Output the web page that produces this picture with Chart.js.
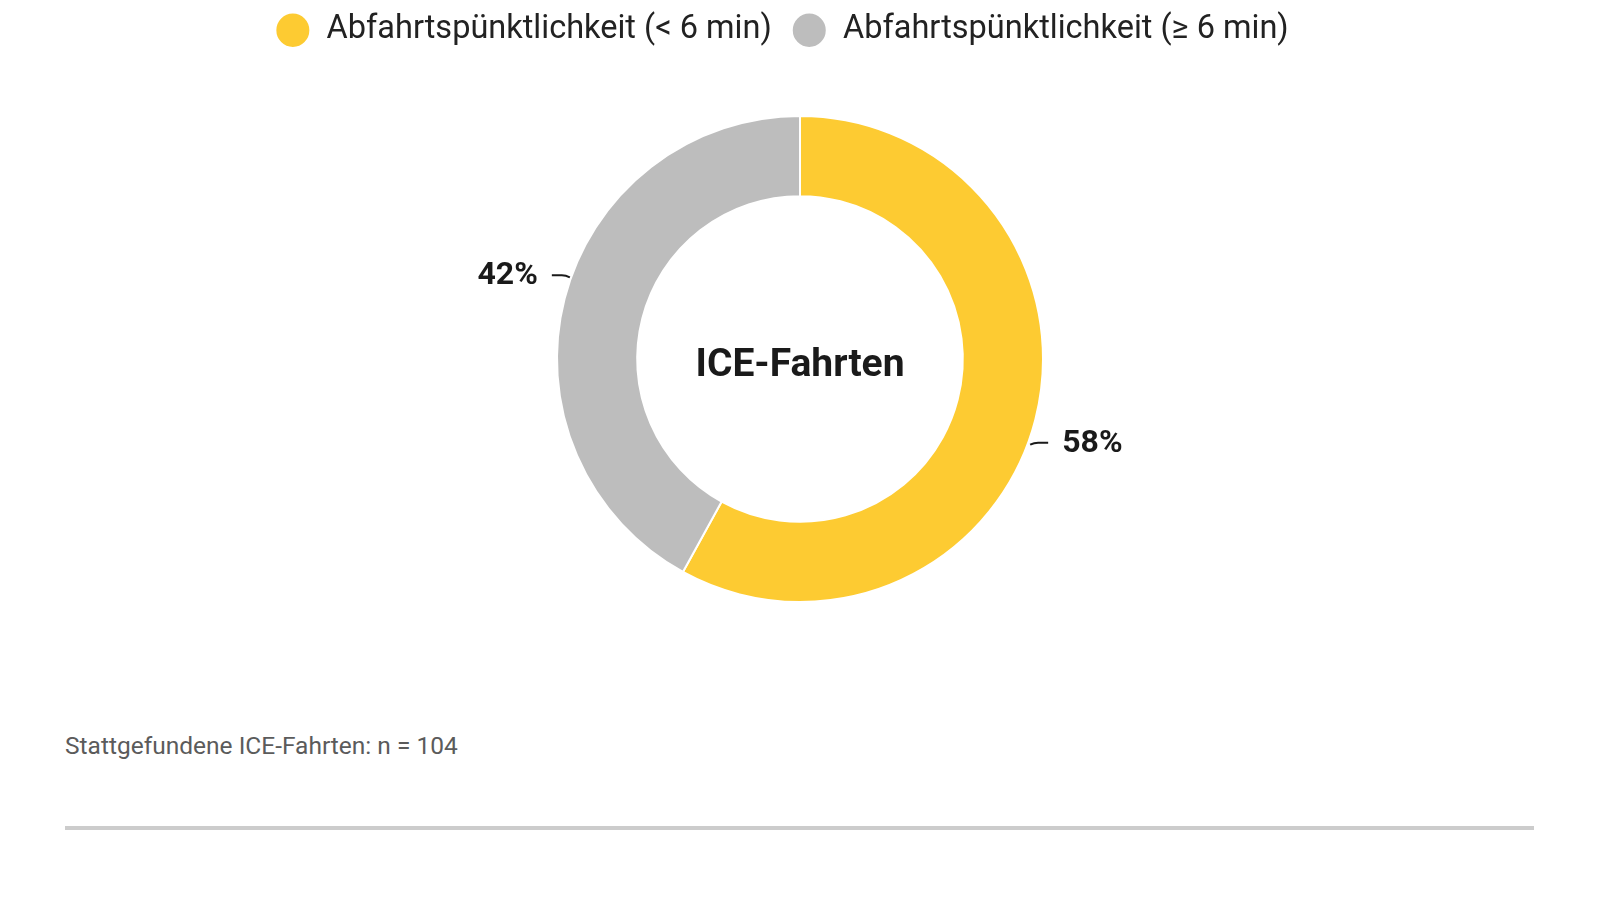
<!DOCTYPE html>
<html>
<head>
<meta charset="utf-8">
<script src="https://cdn.jsdelivr.net/npm/chart.js@4"></script>
<style>
  html, body { margin: 0; padding: 0; background: #fff; }
  body { width: 1600px; height: 900px; position: relative; overflow: hidden; font-family: Roboto, sans-serif; }
  #wrap { position: absolute; left: 0; top: 0; width: 1600px; height: 640px; }
  #note { position: absolute; left: 65px; top: 732px; font-size: 24.5px; line-height: 28px; color: #5b5b5b; font-family: Roboto, sans-serif; }
  #rule { position: absolute; left: 65px; top: 826px; width: 1469px; height: 4px; background: #cccccc; }
</style>
</head>
<body>
<div id="wrap"><canvas id="donut"></canvas></div>
<div id="note">Stattgefundene ICE-Fahrten: n = 104</div>
<div id="rule"></div>
<script>
const categories = ['Abfahrtspünktlichkeit (< 6 min)', 'Abfahrtspünktlichkeit (≥ 6 min)'];
const shares = [58, 42];
const colors = ['#fdcb32', '#bdbdbd'];
const centerLabel = 'ICE-Fahrten';

// leave room between legend and ring, and nudge the legend a bit left
const legendGap = {
    id: 'legendGap',
    beforeInit(chart) {
        const fit = chart.legend.fit;
        chart.legend.fit = function () {
            fit.bind(chart.legend)();
            this.height = 121;
        };
    },
    beforeDraw(chart) {
        const lg = chart.legend;
        lg.left = -18;
        lg.right = chart.width - 18;
    }
};

// centre caption
const centerText = {
    id: 'centerText',
    afterDatasetsDraw(chart) {
        const arc = chart.getDatasetMeta(0).data[0];
        if (!arc) return;
        const ctx = chart.ctx;
        ctx.save();
        ctx.font = 'bold 39px Roboto, sans-serif';
        ctx.fillStyle = '#1a1a1a';
        ctx.textAlign = 'center';
        ctx.textBaseline = 'middle';
        ctx.fillText(centerLabel, arc.x, arc.y + 7);
        ctx.restore();
    }
};

// percent labels outside the ring with a short tick
const outerLabels = {
    id: 'outerLabels',
    afterDatasetsDraw(chart) {
        const ctx = chart.ctx;
        const meta = chart.getDatasetMeta(0);
        ctx.save();
        ctx.font = 'bold 32px Roboto, sans-serif';
        ctx.fillStyle = '#1a1a1a';
        ctx.strokeStyle = '#1a1a1a';
        ctx.lineWidth = 2;
        ctx.textBaseline = 'middle';
        meta.data.forEach((arc, i) => {
            const p = arc.getProps(['x', 'y', 'startAngle', 'endAngle', 'outerRadius'], true);
            const a = (p.startAngle + p.endAngle) / 2 + 0.1;
            const px = p.x + Math.cos(a) * p.outerRadius;
            const py = p.y + Math.sin(a) * p.outerRadius;
            const dir = Math.cos(a) >= 0 ? 1 : -1;
            const x0 = px + dir * 2, x1 = px + dir * 20;
            ctx.beginPath();
            ctx.moveTo(x0, py + 2);
            ctx.quadraticCurveTo(x0 + dir * 4, py, x0 + dir * 8, py);
            ctx.lineTo(x1, py);
            ctx.stroke();
            ctx.textAlign = dir > 0 ? 'left' : 'right';
            ctx.fillText(shares[i] + '%', x1 + dir * 14, py + 1);
        });
        ctx.restore();
    }
};

new Chart(document.getElementById('donut'), {
    type: 'doughnut',
    data: {
        labels: categories,
        datasets: [{
            data: shares,
            backgroundColor: colors,
            borderColor: '#ffffff',
            borderWidth: 2,
            hoverOffset: 0
        }]
    },
    options: {
        responsive: true,
        maintainAspectRatio: false,
        animation: false,
        cutout: '67%',
        layout: { padding: { top: -6, bottom: 37, left: 0, right: 0 } },
        plugins: {
            legend: {
                position: 'top',
                labels: {
                    usePointStyle: true,
                    pointStyle: 'circle',
                    boxHeight: 25,
                    pointStyleWidth: 35,
                    padding: 20,
                    color: '#222',
                    font: { family: 'Roboto, sans-serif', size: 32.5, lineHeight: 1 }
                }
            },
            tooltip: { enabled: false }
        }
    },
    plugins: [legendGap, centerText, outerLabels]
});
</script>
</body>
</html>
